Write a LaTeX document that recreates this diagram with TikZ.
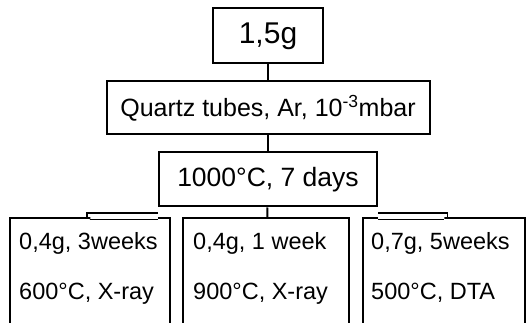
\documentclass[tikz,border=0pt]{standalone}
\usepackage{fontspec}
\setmainfont{Liberation Sans}
\usetikzlibrary{positioning}

\begin{document}
\begin{tikzpicture}[x=1pt, y=-1pt,
    stepbox/.style={draw, line width=2pt, inner sep=0pt, font=\fontsize{25}{30}\selectfont},
    branchbox/.style={draw, line width=2pt, inner sep=0pt, anchor=north, minimum height=125pt},
    branchtext/.style={font=\fontsize{23.5}{50}\selectfont, align=left, inner sep=0pt},
    link/.style={line width=2pt},
    tab/.style={line width=1.5pt, double, double distance=5pt}
]
    \useasboundingbox (0,0) rectangle (531,323);
    \clip (0,0) rectangle (531,323);

    % process steps, top to bottom
    \node[stepbox, minimum width=110pt, minimum height=55pt, font=\fontsize{30}{34}\selectfont] (sample) at (268,36) {1,5g};
    \node[stepbox, minimum width=323pt, minimum height=53pt, below=16pt of sample] (tubes) {Quartz tubes, Ar, 10\textsuperscript{-3}mbar};
    \node[stepbox, minimum width=218pt, minimum height=54pt, below=16pt of tubes, font=\fontsize{26.5}{30}\selectfont] (anneal) {1000°C, 7 days};

    % the three branches (cut off at the bottom)
    \foreach \i/\x/\w in {1/90/160, 2/266/166, 3/444/162}
        \node[branchbox, minimum width=\w pt] (b\i) at (\x,217) {};

    \node[branchtext, below right=15pt and 10pt of b1.north west] (t1) {0,4g, 3weeks\\600°C, X-ray};
    \node[branchtext, below right=15pt and 11pt of b2.north west] (t2) {0,4g, 1 week\\900°C, X-ray};
    \node[branchtext, below right=15pt and 9pt of b3.north west] (t3) {0,7g, 5weeks\\500°C, DTA};

    % connectors
    \draw[link] (sample) -- (tubes);
    \draw[link] (tubes) -- (anneal);
    \draw[link] (anneal) -- (b2);
    \draw[tab] ([yshift=-9pt]anneal.south west) -| (b1.north);
    \draw[tab] ([yshift=-9pt]anneal.south east) -| (b3.north);

\end{tikzpicture}
\end{document}
